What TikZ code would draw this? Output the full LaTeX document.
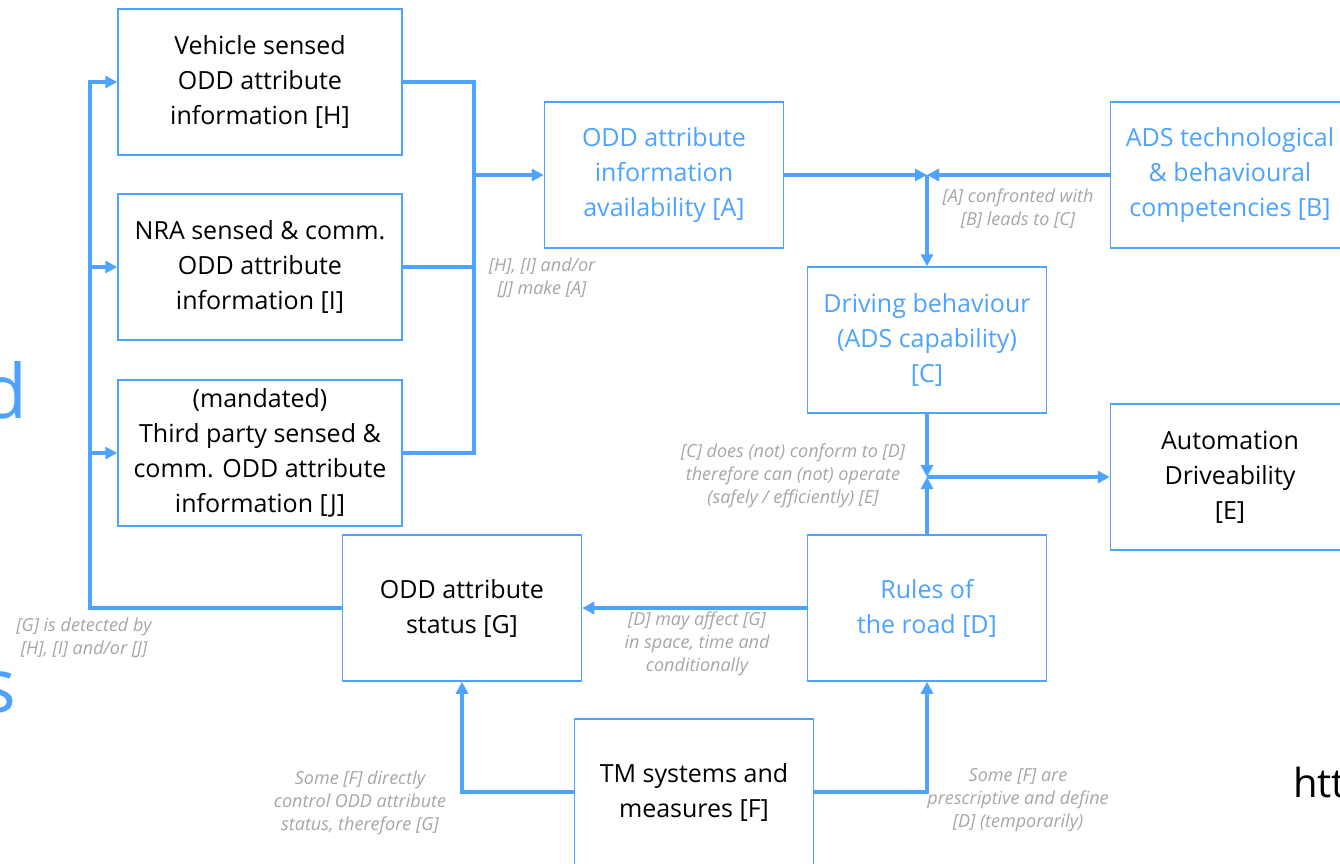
\documentclass[tikz,border=0pt]{standalone}
\usepackage{fontspec}
\setmainfont{Open Sans}
\usetikzlibrary{arrows.meta}
\definecolor{oddblue}{RGB}{77,163,255}
\definecolor{notegray}{RGB}{166,166,166}

\begin{document}
\begin{tikzpicture}[x=1pt,y=-1pt,
    box/.style={draw=oddblue,line width=1.5pt,fill=white,align=center,
        minimum width=239pt,minimum height=146pt,inner sep=0pt,
        font=\fontsize{25}{35}\selectfont},
    widebox/.style={box,minimum width=284pt},
    bluetext/.style={text=oddblue},
    link/.style={draw=oddblue,line width=3.5pt},
    arr/.style={link,-{Triangle[length=12pt,width=12pt]}},
    note/.style={text=notegray,align=center,
        font=\fontsize{18}{23}\selectfont\itshape}]
    \useasboundingbox (0,0) rectangle (1340,863);
    % cut-off fragments at the edges
    \node [anchor=base east,inner sep=0pt,text=oddblue,
        font=\fontsize{75}{75}\selectfont] (fragd) at (28,418) {d};
    \node [anchor=base east,inner sep=0pt,text=oddblue,
        font=\fontsize{75}{75}\selectfont] (frags) at (16,712) {s};
    \node [anchor=base west,inner sep=0pt,
        font=\fontsize{40}{40}\selectfont] (fraghtt) at (1293,797) {htt};
    % sensed information
    \node [widebox] (H) at (260,82) {Vehicle sensed\\ODD attribute\\information [H]};
    \node [widebox] (I) at (260,267) {NRA sensed \& comm.\\ODD attribute\\information [I]};
    \node [widebox] (J) at (260,453) {(mandated)\\Third party sensed \&\\comm. ODD attribute\\information [J]};
    % main chain
    \node [box,bluetext] (A) at (664,175) {ODD attribute\\information\\availability [A]};
    \node [box,bluetext] (B) at (1230,175) {ADS technological\\\& behavioural\\competencies [B]};
    \node [box,bluetext] (C) at (927,340) {Driving behaviour\\(ADS capability)\\{[C]}};
    \node [box] (E) at (1230,477) {Automation\\Driveability\\{[E]}};
    \node [box] (G) at (462,608) {ODD attribute\\status [G]};
    \node [box,bluetext] (D) at (927,608) {Rules of\\the road [D]};
    \node [box] (F) at (694,792) {TM systems and\\measures [F]};
    % junctions
    \coordinate (jn) at (474,175);
    \coordinate (ab) at (C.north |- A.east);
    \coordinate (cd) at (C.south |- E.west);
    \coordinate (rail) at (90,608);
    % H, I, J make A
    \draw [link] (H.east) -| (jn) |- (J.east);
    \draw [link] (I.east) -- (I.east -| jn);
    \draw [arr] (jn) -- (A.west);
    % A and B lead to C
    \draw [arr] (A.east) -- (ab);
    \draw [arr] (B.west) -- (ab);
    \draw [arr] (ab) -- (C.north);
    % C and D give E
    \draw [arr] (C.south) -- (cd);
    \draw [arr] (D.north) -- (cd);
    \draw [arr] (cd) -- (E.west);
    % D affects G, G detected by H, I, J
    \draw [arr] (D.west) -- (G.east);
    \draw [arr] (G.west) -- (rail) |- (H.west);
    \draw [arr] (rail |- I.west) -- (I.west);
    \draw [arr] (rail |- J.west) -- (J.west);
    % F controls G and D
    \draw [arr] (F.west) -| (G.south);
    \draw [arr] (F.east) -| (D.south);
    % notes
    \node [note] (nA) at (542,278) {[H], [I] and/or\\{[J]} make [A]};
    \node [note] (nC) at (1018,209) {[A] confronted with\\{[B]} leads to [C]};
    \node [note] (nE) at (793,476) {[C] does (not) conform to [D]\\therefore can (not) operate\\(safely / efficiently) [E]};
    \node [note] (nG) at (697,644) {[D] may affect [G]\\in space, time and\\conditionally};
    \node [note] (nH) at (84,638) {[G] is detected by\\{[H]}, [I] and/or [J]};
    \node [note] (nF1) at (360,803) {Some [F] directly\\control ODD attribute\\status, therefore [G]};
    \node [note] (nF2) at (1018,800) {Some [F] are\\prescriptive and define\\{[D]} (temporarily)};
\end{tikzpicture}
\end{document}
